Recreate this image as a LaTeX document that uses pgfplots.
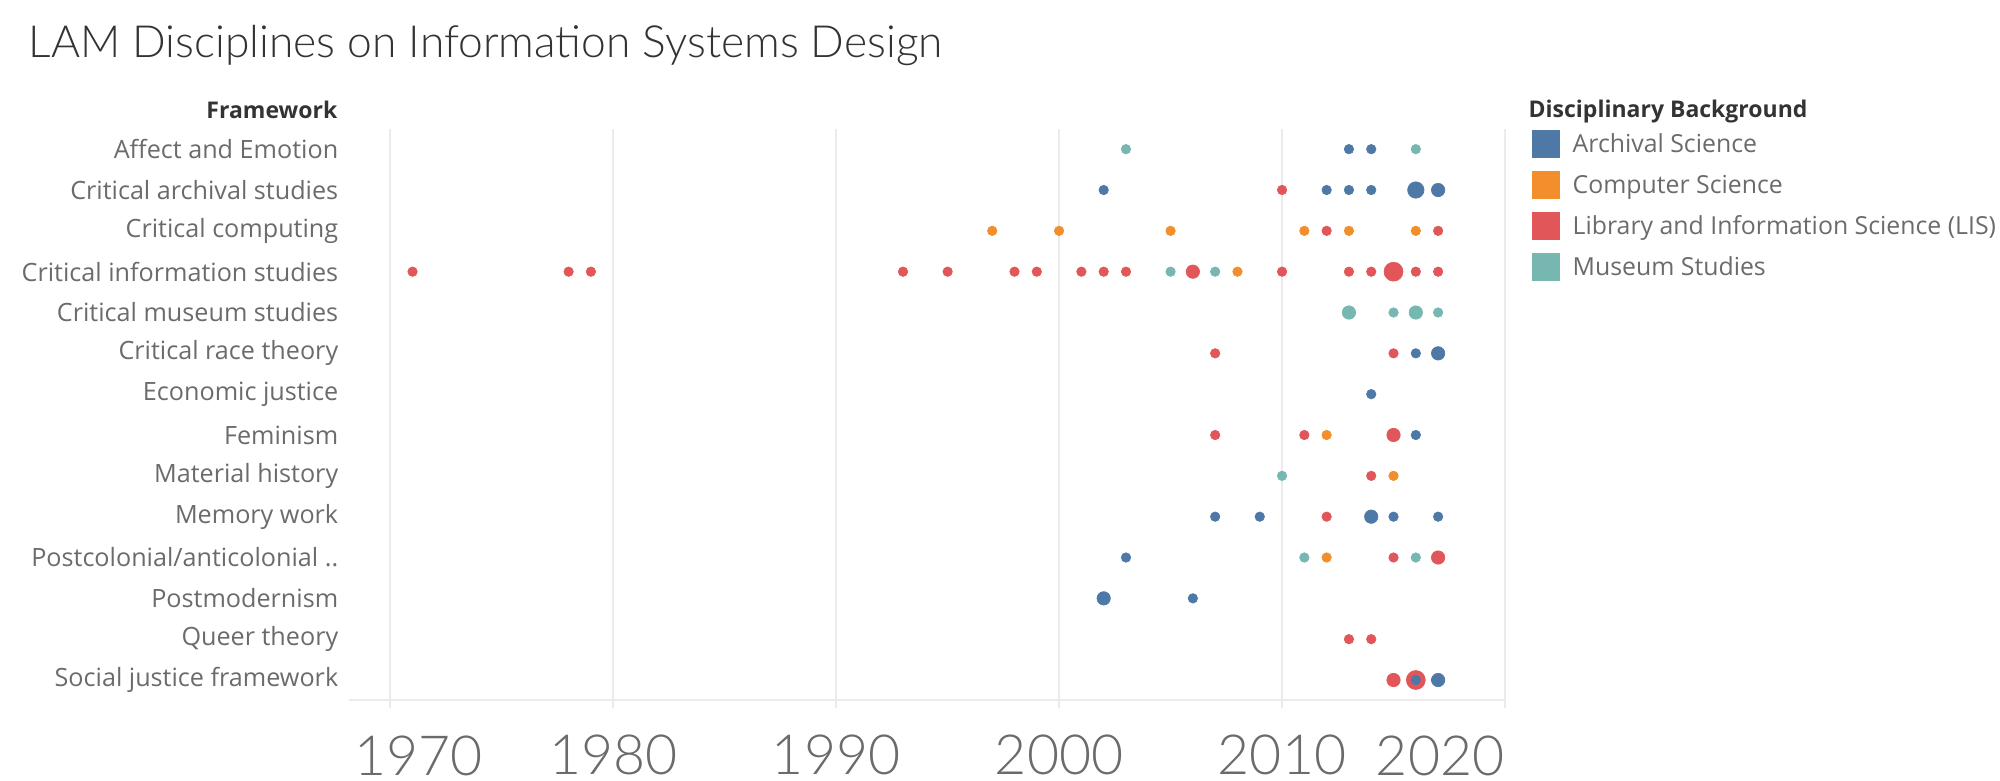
\documentclass[border=0pt]{standalone}
\usepackage{fontspec}
\setmainfont{Open Sans}
\newfontfamily\lightfont{Lato Light}
\usepackage{pgfplots}
\pgfplotsset{compat=1.18}
\usepackage{pgfplotstable}

\definecolor{arch}{HTML}{4E79A7}
\definecolor{comp}{HTML}{F28E2B}
\definecolor{lis}{HTML}{E15759}
\definecolor{mus}{HTML}{76B7B2}
\definecolor{gridcol}{HTML}{EBEBEB}
\definecolor{labcol}{HTML}{6B6B6B}
\definecolor{darkcol}{HTML}{333333}

% year, row (1 = top), n = number of works (dot size)
\pgfplotstableread{
year row n
1971 4 1
1978 4 1
1979 4 1
1993 4 1
1995 4 1
1998 4 1
1999 4 1
2001 4 1
2002 4 1
2003 4 1
2006 4 2
2010 4 1
2013 4 1
2014 4 1
2015 4 4
2016 4 1
2017 4 1
2010 2 1
2012 3 1
2017 3 1
2007 6 1
2015 6 1
2007 8 1
2011 8 1
2015 8 2
2014 9 1
2012 10 1
2015 11 1
2017 11 2
2013 13 1
2014 13 1
2015 14 2
2016 14 4
}\lisdata

\pgfplotstableread{
year row n
2003 1 1
2016 1 1
2005 4 1
2007 4 1
2013 5 2
2015 5 1
2016 5 2
2017 5 1
2010 9 1
2011 11 1
2016 11 1
}\musdata

\pgfplotstableread{
year row n
1997 3 1
2000 3 1
2005 3 1
2011 3 1
2013 3 1
2016 3 1
2008 4 1
2012 8 1
2015 9 1
2012 11 1
}\compdata

\pgfplotstableread{
year row n
2013 1 1
2014 1 1
2002 2 1
2012 2 1
2013 2 1
2014 2 1
2016 2 3
2017 2 2
2016 6 1
2017 6 2
2014 7 1
2016 8 1
2007 10 1
2009 10 1
2014 10 2
2015 10 1
2017 10 1
2003 11 1
2002 12 2
2006 12 1
2016 14 1
2017 14 2
}\archdata

\pgfplotsset{
  dots/.style={scatter, only marks, mark=*,
    scatter/use mapped color={draw=#1, fill=#1},
    mark options={line width=0.2pt},
    visualization depends on={\thisrow{n} \as \cnt},
    scatter/@pre marker code/.append style={/tikz/mark size={1.42*sqrt(\cnt)}}}
}

\begin{document}
\begin{tikzpicture}
\useasboundingbox (0,0) rectangle (600pt,-234pt);

\node[anchor=base west, inner sep=0pt, text=darkcol, font=\lightfont\fontsize{13.3}{16}\selectfont]
  at (8.4pt,-17.2pt) {LAM Disciplines on Information Systems Design};

\node[anchor=base east, inner sep=0pt, text=darkcol, font=\bfseries\fontsize{6.9}{9}\selectfont]
  at (101.4pt,-35.6pt) {Framework};

\begin{axis}[
  at={(104.7pt,-210.12pt)}, anchor=south west,
  scale only axis, width=346.8pt, height=171.5pt,
  xmin=1968.15, xmax=2020, ymin=0.5, ymax=14.5, y dir=reverse,
  clip=false,
  axis line style={draw=none},
  xtick={1970,1980,1990,2000,2010,2020},
  xticklabels={{},1980,1990,2000,2010,{}},
  xtick pos=left, tick align=outside,
  major tick length=2.4pt,
  x tick style={gridcol, line width=0.6pt},
  xticklabel style={anchor=base, yshift=-19.8pt, text=labcol,
    font=\lightfont\fontsize{16.6}{20}\selectfont},
  xmajorgrids, major grid style={gridcol, line width=0.6pt},
  ytick={1,...,14},
  y tick style={draw=none},
  yticklabels={Affect and Emotion, Critical archival studies, Critical computing,
    Critical information studies, Critical museum studies, Critical race theory,
    Economic justice, Feminism, Material history, Memory work,
    Postcolonial/anticolonial .., Postmodernism, Queer theory, Social justice framework},
  yticklabel style={text=labcol, font=\fontsize{7.55}{9}\selectfont, xshift=2.7pt},
]
\addplot[dots=lis] table[x=year, y=row] {\lisdata};
\addplot[dots=mus] table[x=year, y=row] {\musdata};
\addplot[dots=comp] table[x=year, y=row] {\compdata};
\addplot[dots=arch] table[x=year, y=row] {\archdata};
\draw[gridcol, line width=0.6pt] (axis description cs:0,0) -- (axis description cs:1,0);
\node[anchor=base west, inner sep=0pt, yshift=-22.4pt, xshift=1.5pt, text=labcol,
  font=\lightfont\fontsize{16.6}{20}\selectfont] at (axis description cs:0,0) {1970};
\node[anchor=base east, inner sep=0pt, yshift=-22.4pt, text=labcol,
  font=\lightfont\fontsize{16.6}{20}\selectfont] at (axis description cs:1,0) {2020};
\end{axis}

% legend
\node[anchor=mid west, inner sep=0pt, text=darkcol, font=\bfseries\fontsize{6.9}{9}\selectfont]
  at (458.4pt,-32.5pt) {Disciplinary Background};
\foreach \c/\t [count=\i from 0] in {arch/Archival Science, comp/Computer Science,
    lis/Library and Information Science (LIS), mus/Museum Studies} {
  \fill[\c] (459.6pt,{-43.05pt-12.3pt*\i+4.2pt}) rectangle (468pt,{-43.05pt-12.3pt*\i-4.2pt});
  \node[anchor=mid west, inner sep=0pt, text=labcol, font=\fontsize{7.45}{9}\selectfont]
    at (471.6pt,{-43.05pt-12.3pt*\i}) {\t};
}
\end{tikzpicture}
\end{document}
